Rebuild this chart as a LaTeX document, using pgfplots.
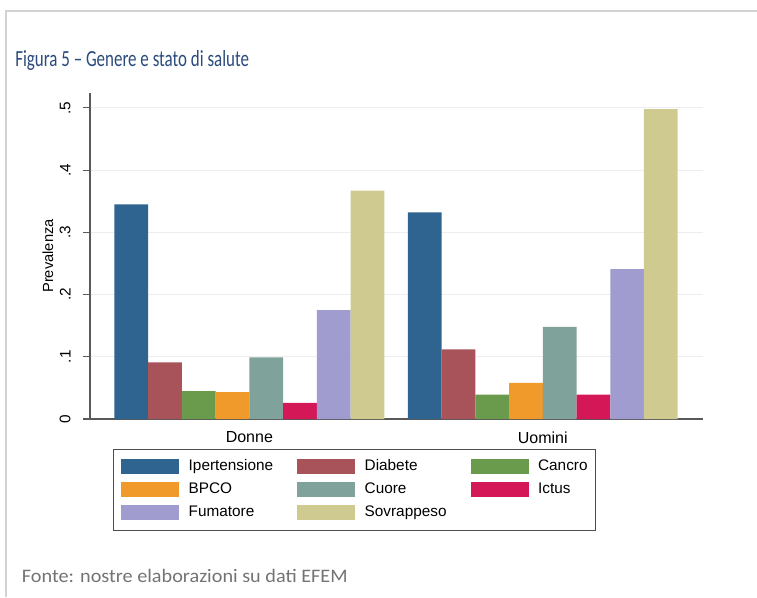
\documentclass[border=0pt]{standalone}
\usepackage{pgfplots}
\pgfplotsset{compat=1.18}
\usepackage{fontspec}
\setmainfont{Liberation Sans}
\newfontfamily\carlitoW[FakeStretch=1.06]{Carlito}
\newfontfamily\carlitoN[FakeStretch=0.735]{Carlito}
\definecolor{cA}{HTML}{2F6490}
\definecolor{cB}{HTML}{A8525A}
\definecolor{cC}{HTML}{6A9A4C}
\definecolor{cD}{HTML}{EF9A2A}
\definecolor{cE}{HTML}{7FA29A}
\definecolor{cF}{HTML}{D41857}
\definecolor{cG}{HTML}{A09CD0}
\definecolor{cH}{HTML}{CFCB90}
\definecolor{titleblue}{HTML}{2A4B7C}
\definecolor{frame}{HTML}{D2D2D2}
\newcommand\PX[2]{({#1*0.75pt},{(597-#2)*0.75pt})}
\begin{document}
\begin{tikzpicture}
\path[use as bounding box] (0,0) rectangle (567.75pt,447.75pt);
\draw[frame, line width=1.5pt] \PX{6}{597} -- \PX{6}{11.5} -- \PX{757}{11.5};
\node[anchor=base west, inner sep=0pt, text=titleblue, font=\carlitoN\fontsize{17.3}{20}\selectfont] at \PX{15}{67} {Figura 5 – Genere e stato di salute};
\node[anchor=base west, inner sep=0pt, text=black!55, font=\carlitoW\fontsize{14.3}{16}\selectfont] at \PX{21.7}{582} {Fonte: nostre elaborazioni su dati EFEM};
\begin{axis}[
  at={(67.5pt,133.5pt)}, anchor=south west,
  scale only axis, width=459.75pt, height=244.5pt,
  xmin=-0.543, xmax=1.546, ymin=0, ymax=0.524,
  ybar=0pt, bar width=25.3pt,
  axis x line*=bottom, axis y line*=left,
  axis line style={black!65, line width=0.8pt},
  xtick={0,1}, xticklabels={Donne,Uomini},
  x tick style={draw=none},
  x tick label style={font=\fontsize{12}{14}\selectfont, yshift=-1pt},
  ytick={0,0.1,0.2,0.3,0.4,0.5}, yticklabels={0,.1,.2,.3,.4,.5},
  y tick style={black!65, line width=0.8pt},
  tick align=outside, major tick length=5pt,
  ytick pos=left,
  yticklabel shift=6pt,
  yticklabel style={rotate=90, anchor=south, font=\fontsize{11.5}{13}\selectfont},
  ymajorgrids, grid style={color=black!7, line width=0.8pt},
  ylabel={Prevalenza}, ylabel shift=-2pt,
  ylabel style={font=\fontsize{11}{13}\selectfont},
  legend columns=3,
  legend cell align=left,
  legend style={at={(axis description cs:0.0375,-0.092)}, anchor=north west,
    draw=black!70, line width=0.6pt, inner xsep=5.8pt, inner ysep=7.2pt,
    font=\fontsize{11.5}{13}\selectfont,
    nodes={inner sep=0pt, text height=8.5pt, text depth=2.5pt},
    row sep=6.2pt,
    /tikz/every odd column/.append style={column sep=7.2pt},
    /tikz/every even column/.append style={column sep=18pt}},
]
\addplot[fill=cA, draw=none, legend image code/.code={\fill[cA] (0pt,-5.6pt) rectangle (43.5pt,5.6pt);}] coordinates {(0,0.345) (1,0.332)};
\addplot[fill=cB, draw=none, legend image code/.code={\fill[cB] (0pt,-5.6pt) rectangle (43.5pt,5.6pt);}] coordinates {(0,0.091) (1,0.112)};
\addplot[fill=cC, draw=none, legend image code/.code={\fill[cC] (0pt,-5.6pt) rectangle (43.5pt,5.6pt);}] coordinates {(0,0.045) (1,0.039)};
\addplot[fill=cD, draw=none, legend image code/.code={\fill[cD] (0pt,-5.6pt) rectangle (43.5pt,5.6pt);}] coordinates {(0,0.043) (1,0.058)};
\addplot[fill=cE, draw=none, legend image code/.code={\fill[cE] (0pt,-5.6pt) rectangle (43.5pt,5.6pt);}] coordinates {(0,0.099) (1,0.148)};
\addplot[fill=cF, draw=none, legend image code/.code={\fill[cF] (0pt,-5.6pt) rectangle (43.5pt,5.6pt);}] coordinates {(0,0.026) (1,0.039)};
\addplot[fill=cG, draw=none, legend image code/.code={\fill[cG] (0pt,-5.6pt) rectangle (43.5pt,5.6pt);}] coordinates {(0,0.175) (1,0.241)};
\addplot[fill=cH, draw=none, legend image code/.code={\fill[cH] (0pt,-5.6pt) rectangle (43.5pt,5.6pt);}] coordinates {(0,0.367) (1,0.498)};
\legend{Ipertensione,Diabete,Cancro,BPCO,Cuore,Ictus,Fumatore,Sovrappeso}
\end{axis}
\end{tikzpicture}
\end{document}
